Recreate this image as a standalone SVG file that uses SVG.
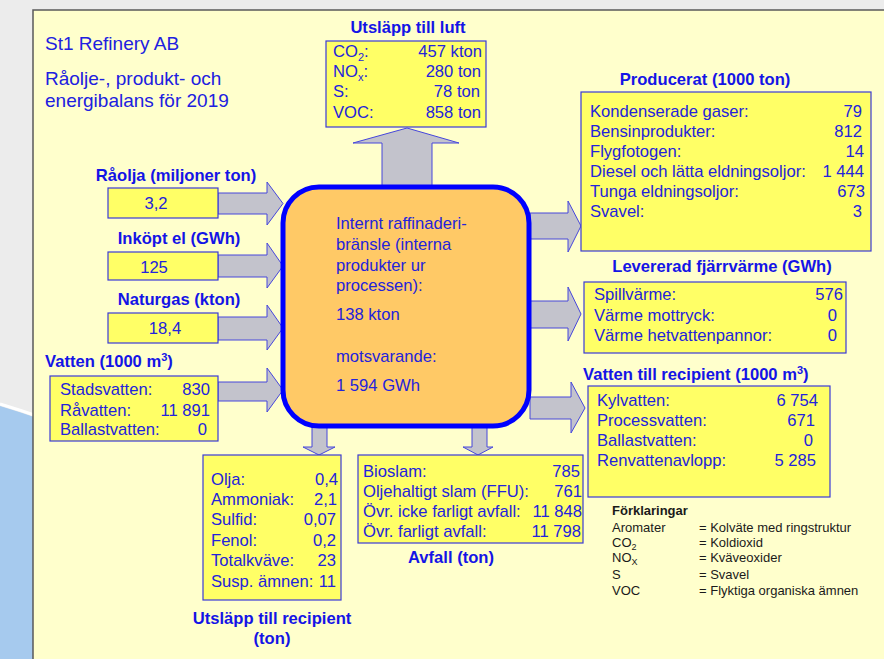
<svg xmlns="http://www.w3.org/2000/svg" width="884" height="659" viewBox="0 0 884 659">
<style>
.t{font-family:"Liberation Sans",Arial,sans-serif;font-size:16.6px;fill:#2323dc}
.h{font-family:"Liberation Sans",Arial,sans-serif;font-size:16.6px;font-weight:bold;fill:#1414e6}
.ttl{font-family:"Liberation Sans",Arial,sans-serif;font-size:19px;fill:#2020e0}
.lg{font-family:"Liberation Sans",Arial,sans-serif;font-size:13px;fill:#1a1a1a}
.e{text-anchor:end}
.m{text-anchor:middle}
.box{fill:#ffff66;stroke:#3a3ad8;stroke-width:1.2}
.arr{fill:#c3c3cc;stroke:#4646dc;stroke-width:1}
</style>
<rect x="0" y="0" width="884" height="659" fill="#ececec"/>
<path d="M0,406 Q20,412 40,419 L40,659 L0,659 Z" fill="#a6caee"/>
<path d="M0,404 Q20,410 40,417" fill="none" stroke="#ffffff" stroke-width="3"/>
<rect x="33" y="10" width="860" height="660" fill="#ffffcc" stroke="#5a5a5a" stroke-width="1.5"/>

<g id="title">
<text class="ttl" x="45" y="50">St1 Refinery AB</text>
<text class="ttl" x="45" y="85">Råolje-, produkt- och</text>
<text class="ttl" x="45" y="107">energibalans för 2019</text>
</g>

<g id="connectors">
<polygon class="arr" points="218,193 267,193 267,182 283,203.5 267,225 267,214 218,214"/>
<polygon class="arr" points="218,255 267,255 267,243 283,266 267,288 267,277 218,277"/>
<polygon class="arr" points="218,317 267,317 267,305 283,328 267,350 267,340 218,340"/>
<polygon class="arr" points="218,382 267,382 267,368 283,390 267,412 267,401 218,401"/>
<polygon class="arr" points="530,213 568,213 568,201 581,226 568,252 568,239 530,239"/>
<polygon class="arr" points="530,301 568,301 568,287 581,314 568,341 568,328 530,328"/>
<polygon class="arr" points="530,397 571,397 571,382 585,408 571,433 571,419 530,419"/>
<polygon class="arr" points="382,188 382,143 353,143 407,128 459,143 432,143 432,188"/>
<polygon class="arr" points="312,425 312,447 303,447 319,455 335,447 327,447 327,425"/>
<polygon class="arr" points="472,425 472,447 463,447 478,455 493,447 487,447 487,425"/>
</g>

<g id="refinery">
<rect x="283" y="187" width="246" height="239" rx="36" ry="36" fill="#ffc966" stroke="#0000ff" stroke-width="5"/>
<text class="t" x="336" y="229">Internt raffinaderi-</text>
<text class="t" x="336" y="250">bränsle (interna</text>
<text class="t" x="336" y="271">produkter ur</text>
<text class="t" x="336" y="291">processen):</text>
<text class="t" x="336" y="320">138 kton</text>
<text class="t" x="336" y="362">motsvarande:</text>
<text class="t" x="336" y="391">1 594 GWh</text>
</g>

<g id="luft">
<text class="h m" x="408" y="33">Utsläpp till luft</text>
<rect class="box" x="326" y="41" width="160" height="86"/>
<text class="t" x="333" y="57">CO<tspan font-size="11" dy="4">2</tspan><tspan dy="-4">:</tspan></text>
<text class="t" x="333" y="77">NO<tspan font-size="11" dy="4">x</tspan><tspan dy="-4">:</tspan></text>
<text class="t" x="333" y="97">S:</text>
<text class="t" x="333" y="118">VOC:</text>
<text class="t e" x="482" y="57">457 kton</text>
<text class="t e" x="481" y="77">280 ton</text>
<text class="t e" x="480" y="97">78 ton</text>
<text class="t e" x="481" y="118">858 ton</text>
</g>

<g id="raolja">
<text class="h m" x="176" y="181">Råolja (miljoner ton)</text>
<rect class="box" x="108" y="188" width="110" height="30"/>
<text class="t m" x="156" y="209">3,2</text>
</g>
<g id="el">
<text class="h m" x="179" y="244">Inköpt el (GWh)</text>
<rect class="box" x="108" y="252" width="110" height="28"/>
<text class="t m" x="154" y="273">125</text>
</g>
<g id="naturgas">
<text class="h m" x="179" y="305">Naturgas (kton)</text>
<rect class="box" x="108" y="313" width="110" height="30"/>
<text class="t m" x="165" y="334">18,4</text>
</g>
<g id="vatten">
<text class="h" x="45" y="367">Vatten (1000 m<tspan font-size="11" dy="-6">3</tspan><tspan dy="6">)</tspan></text>
<rect class="box" x="50" y="376" width="168" height="65"/>
<text class="t" x="60" y="395">Stadsvatten:</text>
<text class="t" x="60" y="416">Råvatten:</text>
<text class="t" x="60" y="435">Ballastvatten:</text>
<text class="t e" x="210" y="395">830</text>
<text class="t e" x="210" y="416">11 891</text>
<text class="t e" x="207" y="435">0</text>
</g>

<g id="producerat">
<text class="h m" x="705" y="85">Producerat (1000 ton)</text>
<rect class="box" x="581" y="92" width="290" height="159"/>
<text class="t" x="590" y="117">Kondenserade gaser:</text>
<text class="t" x="590" y="137">Bensinprodukter:</text>
<text class="t" x="590" y="157">Flygfotogen:</text>
<text class="t" x="590" y="177">Diesel och lätta eldningsoljor:</text>
<text class="t" x="590" y="197">Tunga eldningsoljor:</text>
<text class="t" x="590" y="217">Svavel:</text>
<text class="t e" x="862" y="117">79</text>
<text class="t e" x="862" y="137">812</text>
<text class="t e" x="864" y="157">14</text>
<text class="t e" x="864" y="177">1 444</text>
<text class="t e" x="865" y="197">673</text>
<text class="t e" x="862" y="217">3</text>
</g>

<g id="fjarrvarme">
<text class="h m" x="722" y="272">Levererad fjärrvärme (GWh)</text>
<rect class="box" x="584" y="282" width="262" height="71"/>
<text class="t" x="594" y="300">Spillvärme:</text>
<text class="t" x="594" y="321">Värme mottryck:</text>
<text class="t" x="594" y="341">Värme hetvattenpannor:</text>
<text class="t e" x="843" y="300">576</text>
<text class="t e" x="837" y="321">0</text>
<text class="t e" x="837" y="341">0</text>
</g>

<g id="vatten-recipient">
<text class="h" x="583" y="380">Vatten till recipient (1000 m<tspan font-size="11" dy="-6">3</tspan><tspan dy="6">)</tspan></text>
<rect class="box" x="588" y="386" width="242" height="111"/>
<text class="t" x="597" y="406">Kylvatten:</text>
<text class="t" x="597" y="426">Processvatten:</text>
<text class="t" x="597" y="446">Ballastvatten:</text>
<text class="t" x="597" y="466">Renvattenavlopp:</text>
<text class="t e" x="818" y="406">6 754</text>
<text class="t e" x="815" y="426">671</text>
<text class="t e" x="813" y="446">0</text>
<text class="t e" x="816" y="466">5 285</text>
</g>

<g id="utslapp-recipient">
<rect class="box" x="203" y="455" width="138" height="145"/>
<text class="t" x="211" y="485">Olja:</text>
<text class="t" x="211" y="505">Ammoniak:</text>
<text class="t" x="211" y="525">Sulfid:</text>
<text class="t" x="211" y="546">Fenol:</text>
<text class="t" x="211" y="566">Totalkväve:</text>
<text class="t" x="211" y="587">Susp. ämnen:</text>
<text class="t e" x="338" y="485">0,4</text>
<text class="t e" x="337" y="505">2,1</text>
<text class="t e" x="336" y="525">0,07</text>
<text class="t e" x="336" y="546">0,2</text>
<text class="t e" x="336" y="566">23</text>
<text class="t e" x="336" y="587">11</text>
<text class="h m" x="272" y="624">Utsläpp till recipient</text>
<text class="h m" x="272" y="644">(ton)</text>
</g>

<g id="avfall">
<rect class="box" x="358" y="455" width="225" height="88"/>
<text class="t" x="363" y="477">Bioslam:</text>
<text class="t" x="363" y="497">Oljehaltigt slam (FFU):</text>
<text class="t" x="363" y="517">Övr. icke farligt avfall:</text>
<text class="t" x="363" y="537">Övr. farligt avfall:</text>
<text class="t e" x="580" y="477">785</text>
<text class="t e" x="582" y="497">761</text>
<text class="t e" x="582" y="517">11 848</text>
<text class="t e" x="581" y="537">11 798</text>
<text class="h m" x="451" y="563">Avfall (ton)</text>
</g>

<g id="legend">
<text class="lg" x="612" y="515" font-weight="bold">Förklaringar</text>
<text class="lg" x="612" y="532">Aromater</text>
<text class="lg" x="612" y="547">CO<tspan font-size="9" dy="3">2</tspan></text>
<text class="lg" x="612" y="562">NO<tspan font-size="9" dy="3">X</tspan></text>
<text class="lg" x="612" y="579">S</text>
<text class="lg" x="612" y="595">VOC</text>
<text class="lg" x="699" y="532">= Kolväte med ringstruktur</text>
<text class="lg" x="699" y="547">= Koldioxid</text>
<text class="lg" x="699" y="562">= Kväveoxider</text>
<text class="lg" x="699" y="579">= Svavel</text>
<text class="lg" x="699" y="595">= Flyktiga organiska ämnen</text>
</g>
</svg>
